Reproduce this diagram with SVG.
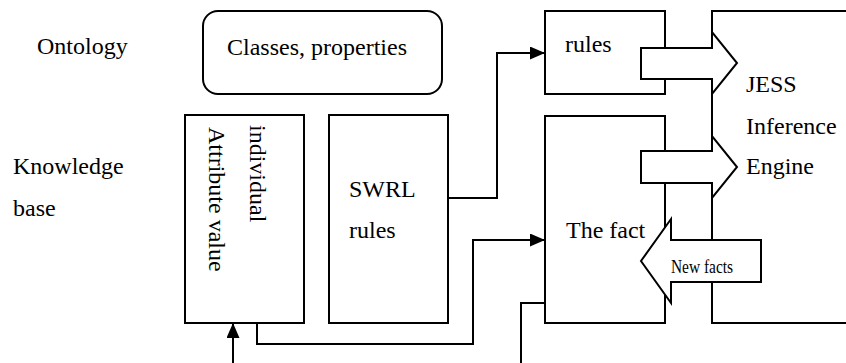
<svg xmlns="http://www.w3.org/2000/svg" width="846" height="363" viewBox="0 0 846 363">
<style>
.box{fill:#fff;stroke:#000;stroke-width:2}
.blk{fill:#fff;stroke:#000;stroke-width:2;stroke-linejoin:miter}
.ln{fill:none;stroke:#000;stroke-width:2}
.t{font-family:'Liberation Serif','Times New Roman','DejaVu Serif',serif;font-size:24px;fill:#000}
.small{font-size:18px}
</style>
<defs>
<marker id="ah" markerWidth="15" markerHeight="13" refX="15" refY="6.5" orient="auto" markerUnits="userSpaceOnUse">
<path d="M0,0 L15,6.5 L0,13 Z" fill="#000"/>
</marker>
</defs>
<rect width="846" height="363" fill="#fff"/>
<g class="t" font-family="Liberation Serif, Times New Roman, DejaVu Serif, serif">
<g id="label-ontology"><text x="37" y="54">Ontology</text></g>
<g id="label-kb"><text x="13" y="174">Knowledge</text><text x="13" y="216">base</text></g>
<g id="classes"><rect class="box" x="203" y="11" width="239" height="83" rx="15" ry="15"/><text x="227" y="55">Classes, properties</text></g>
<g id="individual"><rect class="box" x="185" y="115" width="119" height="208"/>
<text transform="translate(250,125) rotate(90)">individual</text>
<text transform="translate(209,127) rotate(90)">Attribute value</text></g>
<g id="swrl"><rect class="box" x="329" y="115" width="119" height="208"/><text x="349" y="197">SWRL</text><text x="349" y="238">rules</text></g>
<g id="rules"><rect class="box" x="545" y="11" width="120" height="83"/><text x="565" y="52">rules</text></g>
<g id="fact"><rect class="box" x="545" y="116" width="120" height="207"/><text x="566" y="238">The fact</text></g>
<g id="jess"><rect class="box" x="712" y="11" width="140" height="312"/><text x="746" y="92">JESS</text><text x="746" y="134">Inference</text><text x="746" y="174">Engine</text></g>
<g id="connectors">
<polyline class="ln" points="448,198 497,198 497,53 545,53" marker-end="url(#ah)"/>
<polyline class="ln" points="257,323 257,344 473,344 473,240 545,240" marker-end="url(#ah)"/>
<line class="ln" x1="233" y1="363" x2="233" y2="323" marker-end="url(#ah)"/>
<polyline class="ln" points="545,303 521,303 521,363"/>
</g>
<g id="arrow-rules"><polygon class="blk" points="641,48 712,48 712,32 737,63 712,94 712,79 641,79"/></g>
<g id="arrow-fact"><polygon class="blk" points="641,151 712,151 712,136 737,167 712,198 712,183 641,183"/></g>
<g id="arrow-newfacts"><polygon class="blk" points="761,240 671,240 671,219 641,261 671,303 671,282 761,282"/>
<text class="small" x="671" y="273" textLength="62" lengthAdjust="spacingAndGlyphs">New facts</text></g>
</g>
</svg>
